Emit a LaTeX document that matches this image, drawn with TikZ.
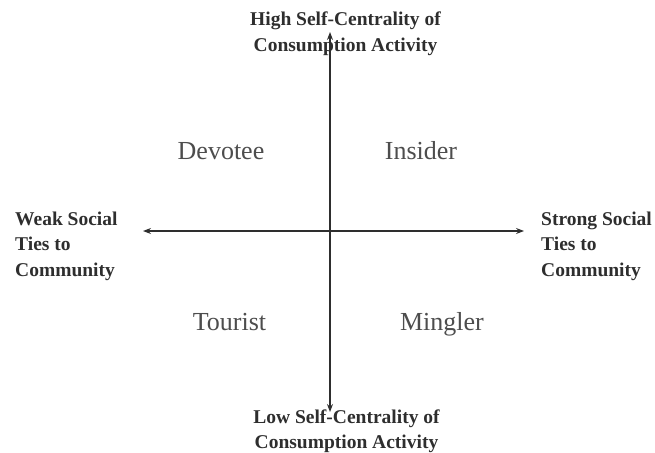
\documentclass[tikz,border=0pt]{standalone}
\usepackage{fontspec}
\setmainfont{Liberation Serif}
\usetikzlibrary{arrows.meta}
\definecolor{ink}{HTML}{2E2E2E}
\tikzset{
  axislabel/.style={font=\fontsize{19.5}{25.5}\selectfont\bfseries, text=ink, inner sep=0pt},
  quad/.style={font=\fontsize{26}{30}\selectfont, text=ink!85!white, inner sep=0pt, anchor=base},
  axis/.style={draw=ink, line width=1.1pt, {Stealth[length=8pt,width=6pt]}-{Stealth[length=8pt,width=6pt]}}
}
\begin{document}
\begin{tikzpicture}[x=1pt,y=-1pt]
\useasboundingbox (0,0) rectangle (655,452);
\node[axislabel, align=center] (top) at (345.5,33.5) {High Self-Centrality of\\Consumption Activity};
\node[axislabel, align=center] (bot) at (346.5,431) {Low Self-Centrality of\\Consumption Activity};
\node[axislabel, align=left, anchor=west] (left) at (15,246) {Weak Social\\Ties to\\Community};
\node[axislabel, align=left, anchor=west] (right) at (541,246) {Strong Social\\Ties to\\Community};
\node[quad] (dev) at (221,159) {Devotee};
\node[quad] (ins) at (421,159) {Insider};
\node[quad] (tou) at (229.5,330) {Tourist};
\node[quad] (min) at (442,330) {Mingler};
\coordinate (vt) at (330,32);
\coordinate (vb) at (330,412);
\coordinate (hl) at (143,231);
\coordinate (hr) at (524,231);
\draw[axis] (vb) -- (vt);
\draw[axis] (hl) -- (hr);
\end{tikzpicture}
\end{document}
